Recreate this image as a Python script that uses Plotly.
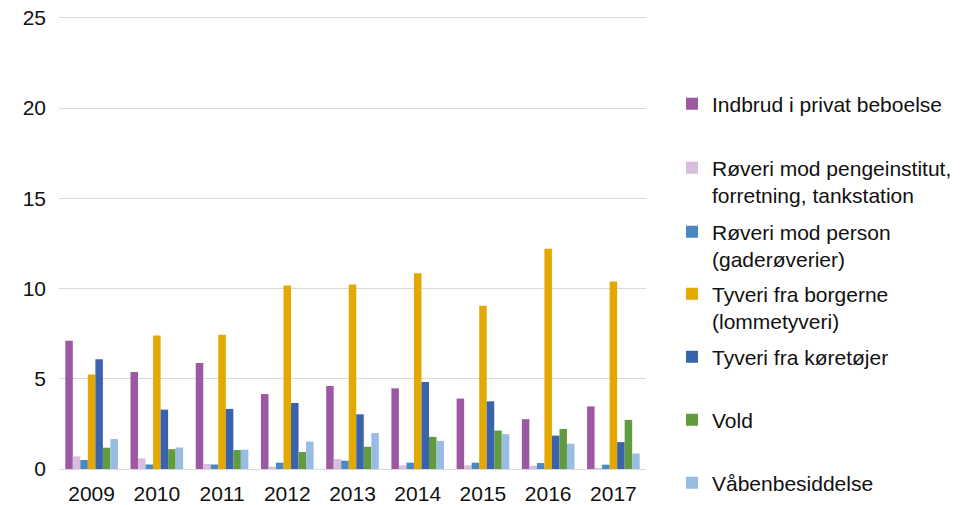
import plotly.graph_objects as go

years = ["2009", "2010", "2011", "2012", "2013", "2014", "2015", "2016", "2017"]

series_names = [
    "Indbrud i privat beboelse",
    "Røveri mod pengeinstitut,<br>forretning, tankstation",
    "Røveri mod person<br>(gaderøverier)",
    "Tyveri fra borgerne<br>(lommetyveri)",
    "Tyveri fra køretøjer",
    "Vold",
    "Våbenbesiddelse",
]

indbrud = [7.1, 5.38, 5.87, 4.15, 4.6, 4.47, 3.9, 2.76, 3.47]
roveri_penge = [0.7, 0.59, 0.28, 0.13, 0.55, 0.2, 0.2, 0.18, 0.02]
roveri_person = [0.5, 0.25, 0.25, 0.35, 0.46, 0.35, 0.35, 0.33, 0.24]
tyveri_borgere = [5.23, 7.4, 7.44, 10.17, 10.22, 10.84, 9.05, 12.2, 10.39]
tyveri_koretojer = [6.08, 3.29, 3.33, 3.66, 3.03, 4.82, 3.75, 1.85, 1.49]
vold = [1.18, 1.1, 1.05, 0.94, 1.23, 1.78, 2.13, 2.22, 2.72]
vaaben = [1.66, 1.19, 1.07, 1.52, 1.99, 1.56, 1.93, 1.4, 0.86]

series_values = [indbrud, roveri_penge, roveri_person, tyveri_borgere,
                 tyveri_koretojer, vold, vaaben]
colors = ["#9c59a1", "#d9bddc", "#4a88c1", "#e4a900", "#3a62ad", "#629a40", "#99bce2"]

y_ticks = [0, 5, 10, 15, 20, 25]

# page has an 8px body margin; figure sized to fit the window exactly
W, H = 965, 497
font_family = "Liberation Sans, Arial, sans-serif"
legend_first_line_y = [104, 168, 232, 294, 357, 420, 483]  # window pixels

fig = go.Figure()
layout_legends = {}
for i, (name, vals, col) in enumerate(zip(series_names, series_values, colors)):
    lname = "legend" if i == 0 else f"legend{i+1}"
    fig.add_trace(go.Bar(
        x=years, y=vals, name=name, marker=dict(color=col, line=dict(width=0)),
        legend=lname,
    ))
    layout_legends[lname] = dict(
        xref="container", yref="container",
        x=664 / W, y=1 - (legend_first_line_y[i] - 28.5) / H,
        xanchor="left", yanchor="top",
        valign="top",
        font=dict(family=font_family, size=21, color="#111111"),
        bgcolor="rgba(0,0,0,0)",
        tracegroupgap=0,
    )

fig.update_layout(
    width=W, height=H,
    margin=dict(l=50.7, r=W - 638.4, t=8.2, b=36, pad=0, autoexpand=False),
    barmode="group", bargap=0.193, bargroupgap=0,
    plot_bgcolor="white", paper_bgcolor="white",
    font=dict(family=font_family, size=21, color="#111111"),
    showlegend=True,
    **layout_legends,
)
fig.update_xaxes(
    showgrid=False, showline=True, linecolor="#d9d9d9", linewidth=1,
    ticks="", tickfont=dict(size=21), ticklabelstandoff=6, automargin=False,
)
fig.update_yaxes(
    range=[0, 25.1], tickmode="array", tickvals=y_ticks,
    showgrid=True, gridcolor="#d9d9d9", gridwidth=1,
    zeroline=False, showline=False, ticks="", tickfont=dict(size=21),
    ticklabelstandoff=12, automargin=False, ticklabeloverflow="allow",
)

fig.write_html("out.html")
